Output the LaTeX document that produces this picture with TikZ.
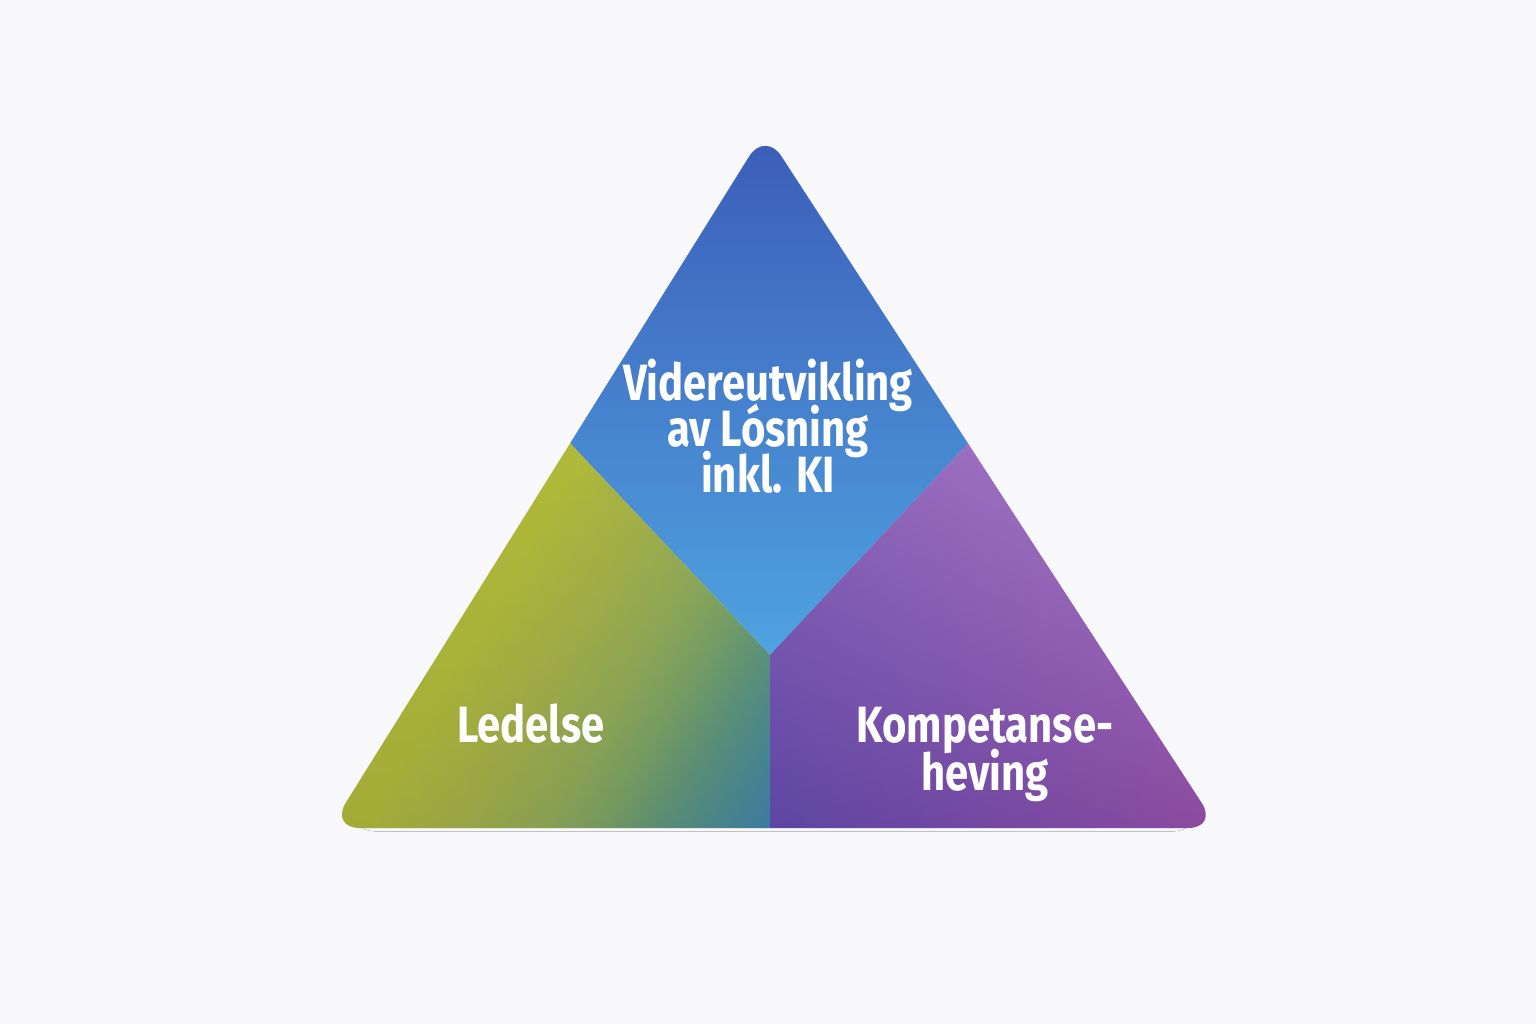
\documentclass[tikz,border=0pt]{standalone}
\usepackage{fontspec}
\setmainfont{Fira Sans}[FakeStretch = 0.82]
\usetikzlibrary{fadings}
\usetikzlibrary{shadings}
\usetikzlibrary{shadows.blur}
\definecolor{bgcol}{HTML}{F9F9FB}
\definecolor{topA}{HTML}{3B58B6}
\definecolor{topB}{HTML}{4787D1}
\definecolor{topC}{HTML}{4FA3E0}
\definecolor{ledA}{HTML}{B6BD38}
\definecolor{ledB}{HTML}{B1BB3A}
\definecolor{ledC}{HTML}{A4B24A}
\definecolor{ledD}{HTML}{90AC5A}
\definecolor{ledE}{HTML}{7AA468}
\definecolor{ledF}{HTML}{60987C}
\definecolor{ledG}{HTML}{4C8E94}
\definecolor{ledH}{HTML}{3A82B2}
\definecolor{kompUL}{HTML}{9066BA}
\definecolor{kompUR}{HTML}{B080CC}
\definecolor{kompLL}{HTML}{5A44A2}
\definecolor{kompLR}{HTML}{8C489C}
\pgfdeclarehorizontalshading{ledelseshade}{100bp}{color(0bp)=(ledA);
  color(44bp)=(ledB); color(54bp)=(ledC); color(62bp)=(ledD); color(67bp)=(ledE);
  color(72bp)=(ledF); color(77bp)=(ledG); color(83bp)=(ledH); color(100bp)=(ledH)}
\tikzfading[name = fade down, top color = transparent!100, bottom color = transparent!0]
\tikzset{region text/.style = {text = white, align = center, inner sep = 0pt,
                               font = {\fontsize{51}{46}\selectfont\bfseries\setlength{\lineskiplimit}{-40pt}}}}

\begin{document}
\begin{tikzpicture}[x = 1pt, y = -1pt]
      \fill [bgcol] (0, 0) rectangle (1536, 1024);
      \useasboundingbox (0, 0) rectangle (1536, 1024);

      % soft shadow under the bottom edge only
      \path [rounded corners = 30pt,
             blur shadow = {shadow xshift = 0pt, shadow yshift = -10pt, shadow scale = 0.96,
                            shadow opacity = 9, shadow blur radius = 8pt}]
      (765, 131) -- (1218, 828) -- (330, 828) -- cycle;

      \begin{scope}
        \clip [rounded corners = 30pt] (765, 131) -- (1218, 828) -- (330, 828) -- cycle;
        % top part
        \shade [top color = topA, middle color = topB, bottom color = topC]
        (740, 100) -- (790, 100) -- (988, 422) -- (770, 655) -- (550, 422) -- cycle;
        % left part
        \shade [shading = ledelseshade, shading angle = -30]
        (550, 422) -- (770, 655) -- (770, 850) -- (300, 850) -- cycle;
        \fill [black!60!olive, opacity = 0.14, path fading = fade down]
        (550, 422) -- (770, 655) -- (770, 850) -- (300, 850) -- cycle;
        % right part
        \shade [upper left = kompUL, upper right = kompUR,
                lower left = kompLL, lower right = kompLR]
        (988, 422) -- (1240, 850) -- (770, 850) -- (770, 655) -- cycle;
      \end{scope}

      \node [region text, anchor = north] (losning) at (768, 359)
      {Videreutvikling\\av Lósning\\inkl. KI};
      \node [region text, anchor = base] (ledelse) at (531, 742) {Ledelse};
      \node [region text, anchor = north,
             font = {\fontsize{51}{48}\selectfont\bfseries\setlength{\lineskiplimit}{-40pt}}]
      (kompetanse) at (985, 707) {Kompetanse-\\heving};
    \end{tikzpicture}
\end{document}
